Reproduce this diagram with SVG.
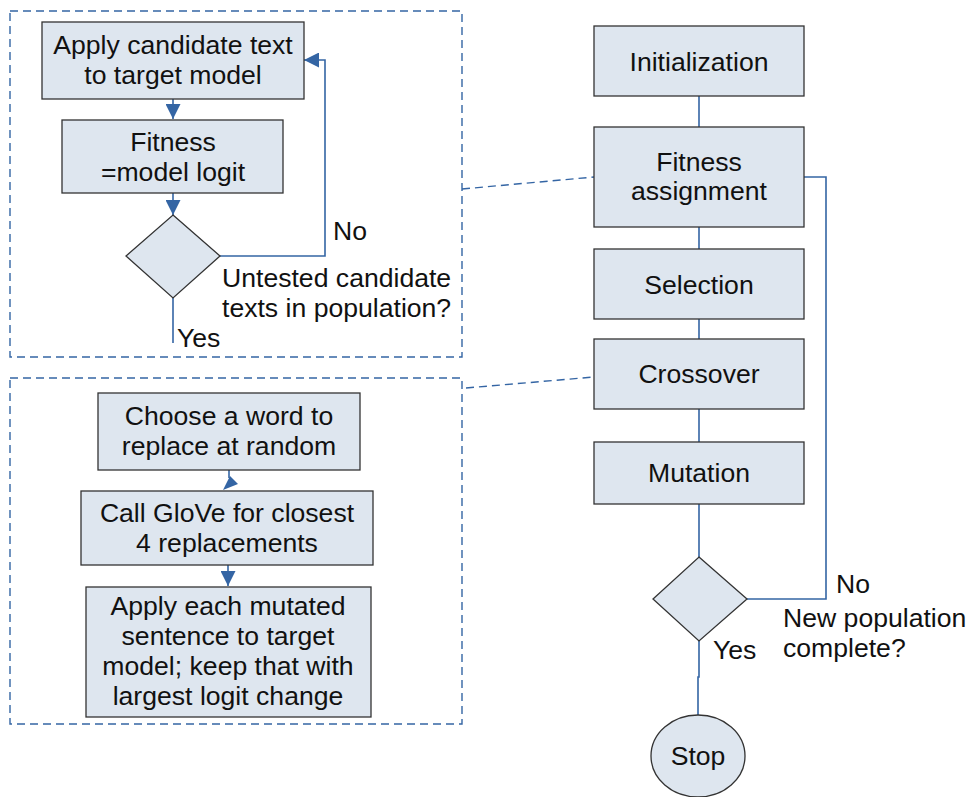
<svg xmlns="http://www.w3.org/2000/svg" width="969" height="797" viewBox="0 0 969 797">
<style>
.box{fill:#dee6ef;stroke:#333;stroke-width:1.3}
.t{font-family:"Liberation Sans",Arial,sans-serif;font-size:26.6px;fill:#111;text-anchor:middle}
.l{font-family:"Liberation Sans",Arial,sans-serif;font-size:26.6px;fill:#111}
.c{fill:none;stroke:#3465a4;stroke-width:1.6}
.d{fill:none;stroke:#3465a4;stroke-width:1.4;stroke-dasharray:8,5}
</style>
<defs>
<marker id="ahb" viewBox="0 0 10 10" refX="10" refY="5" markerWidth="15" markerHeight="15" markerUnits="userSpaceOnUse" orient="auto">
<path d="M0,0 L10,5 L0,10 Z" fill="#3465a4"/>
</marker>
</defs>
<rect width="969" height="797" fill="#fff"/>
<g id="groupTop"><rect class="d" x="10" y="11" width="452" height="346"/></g>
<g id="groupBottom"><rect class="d" x="10" y="378" width="452" height="346"/></g>
<g id="connectors">
<line class="d" x1="462" y1="189" x2="594" y2="177"/>
<line class="d" x1="466" y1="388" x2="594" y2="377"/>
<line class="c" x1="173" y1="99" x2="173" y2="119" marker-end="url(#ahb)"/>
<line class="c" x1="173" y1="193" x2="173" y2="215" marker-end="url(#ahb)"/>
<polyline class="c" points="220,256 325,256 325,60 304,60" marker-end="url(#ahb)"/>
<line class="c" x1="173" y1="298" x2="173" y2="343"/>
<line class="c" x1="229" y1="470" x2="229" y2="478"/>
<polygon points="223,490 238,484 230,476" fill="#3465a4"/>
<line class="c" x1="228" y1="565" x2="228" y2="586" marker-end="url(#ahb)"/>
<line class="c" x1="699" y1="96" x2="699" y2="127"/>
<line class="c" x1="699" y1="227" x2="699" y2="249"/>
<line class="c" x1="699" y1="319" x2="699" y2="339"/>
<line class="c" x1="699" y1="409" x2="699" y2="442"/>
<line class="c" x1="699" y1="504" x2="699" y2="557"/>
<polyline class="c" points="747,599 826,599 826,177 804,177"/>
<polyline class="c" points="699,641 699,677 698,677 698,715"/>
</g>
<g id="applyCandidate"><rect class="box" x="42" y="22" width="262" height="77"/>
<text class="t" x="173" y="54">Apply candidate text</text><text class="t" x="173" y="84">to target model</text></g>
<g id="fitnessLogit"><rect class="box" x="62" y="120" width="221" height="73"/>
<text class="t" x="173" y="151">Fitness</text><text class="t" x="173" y="181">=model logit</text></g>
<g id="untested"><polygon class="box" points="173,215 220,256 173,298 126,256"/>
<text class="l" x="222" y="287">Untested candidate</text><text class="l" x="222" y="317">texts in population?</text>
<text class="l" x="333" y="240">No</text><text class="l" x="177" y="347">Yes</text></g>
<g id="chooseWord"><rect class="box" x="98" y="393" width="262" height="77"/>
<text class="t" x="229" y="425">Choose a word to</text><text class="t" x="229" y="455">replace at random</text></g>
<g id="callGlove"><rect class="box" x="81" y="491" width="292" height="74"/>
<text class="t" x="227" y="522">Call GloVe for closest</text><text class="t" x="227" y="552">4 replacements</text></g>
<g id="applyMutated"><rect class="box" x="86" y="587" width="285" height="130"/>
<text class="t" x="228" y="615">Apply each mutated</text><text class="t" x="228" y="645">sentence to target</text>
<text class="t" x="228" y="675">model; keep that with</text><text class="t" x="228" y="705">largest logit change</text></g>
<g id="initialization"><rect class="box" x="594" y="26" width="210" height="70"/>
<text class="t" x="699" y="71">Initialization</text></g>
<g id="fitnessAssignment"><rect class="box" x="594" y="127" width="210" height="100"/>
<text class="t" x="699" y="171">Fitness</text><text class="t" x="699" y="200">assignment</text></g>
<g id="selection"><rect class="box" x="594" y="249" width="210" height="70"/>
<text class="t" x="699" y="294">Selection</text></g>
<g id="crossover"><rect class="box" x="594" y="339" width="210" height="70"/>
<text class="t" x="699" y="383">Crossover</text></g>
<g id="mutation"><rect class="box" x="594" y="442" width="210" height="62"/>
<text class="t" x="699" y="482">Mutation</text></g>
<g id="complete"><polygon class="box" points="699,557 747,599 699,641 653,599"/>
<text class="l" x="836" y="593">No</text>
<text class="l" x="783" y="627">New population</text><text class="l" x="783" y="657">complete?</text>
<text class="l" x="713" y="659">Yes</text></g>
<g id="stop"><ellipse class="box" cx="698" cy="756" rx="47" ry="41"/>
<text class="t" x="698" y="765">Stop</text></g>
</svg>
